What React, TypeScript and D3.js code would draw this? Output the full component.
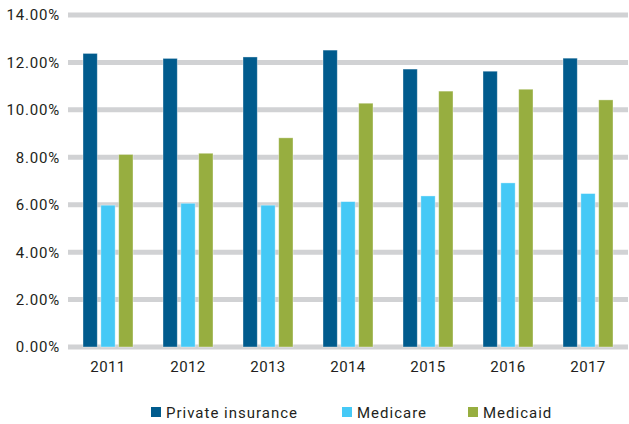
import React from 'react';
import * as d3 from 'd3';

const years = ['2011', '2012', '2013', '2014', '2015', '2016', '2017'];
const seriesNames = ['Private insurance', 'Medicare', 'Medicaid'];
const privateInsurance = [12.38, 12.17, 12.23, 12.52, 11.72, 11.63, 12.18];
const medicare = [5.98, 6.06, 5.98, 6.13, 6.37, 6.92, 6.47];
const medicaid = [8.12, 8.17, 8.82, 10.28, 10.79, 10.87, 10.42];
const yTicks = [0, 2, 4, 6, 8, 10, 12, 14];

const colors = ['#005b8d', '#45c9f6', '#97ae40'];
const fontFamily = 'Roboto, "DejaVu Sans", sans-serif';
const textColor = '#231f20';

const App = () => {
  const width = 629;
  const height = 424;
  const margin = { left: 68, right: 1, top: 15, bottom: 77 };
  const chartWidth = width - margin.left - margin.right;
  const chartHeight = height - margin.top - margin.bottom;

  const values = [privateInsurance, medicare, medicaid];

  const x0 = d3.scaleBand<string>()
    .domain(years)
    .range([0, chartWidth])
    .paddingInner(0.375)
    .paddingOuter(0.1875);
  const x1 = d3.scaleBand<number>()
    .domain([0, 1, 2])
    .range([0, x0.bandwidth()])
    .paddingInner(0.2);
  const y = d3.scaleLinear().domain([0, 14]).range([chartHeight, 0]);

  const legendX = [151, 342, 468];

  return (
    <svg width={width} height={height} style={{ position: 'absolute', left: 0, top: 0 }}>
      <g transform={`translate(${margin.left},${margin.top})`}>
        {yTicks.map((t) => (
          <g key={t}>
            <line x1={0} x2={chartWidth} y1={y(t)} y2={y(t)} stroke="#d1d2d4" strokeWidth={5} />
            <text x={-8} y={y(t)} dy="0.36em" textAnchor="end" fontFamily={fontFamily}
              fontSize={15} letterSpacing={0.8} fill={textColor}>{t.toFixed(2) + '%'}</text>
          </g>
        ))}
        {years.map((yr, i) => (
          <g key={yr} transform={`translate(${x0(yr)},0)`}>
            {values.map((s, j) => (
              <rect key={j} x={x1(j)} y={y(s[i])} width={x1.bandwidth()}
                height={chartHeight - y(s[i])} fill={colors[j]}
                stroke="rgba(255,255,255,0.45)" strokeWidth={0.8} />
            ))}
            <text x={x0.bandwidth() / 2} y={chartHeight + 25} textAnchor="middle"
              fontFamily={fontFamily} fontSize={15} letterSpacing={0.4} fill={textColor}>{yr}</text>
          </g>
        ))}
      </g>
      <g>
        {seriesNames.map((n, j) => (
          <g key={n} transform={`translate(${legendX[j]},407)`}>
            <rect width={10} height={10} fill={colors[j]} />
            <text x={15} y={10.5} fontFamily={fontFamily} fontSize={15} letterSpacing={1}
              fill={textColor}>{n}</text>
          </g>
        ))}
      </g>
    </svg>
  );
};

export default App;
